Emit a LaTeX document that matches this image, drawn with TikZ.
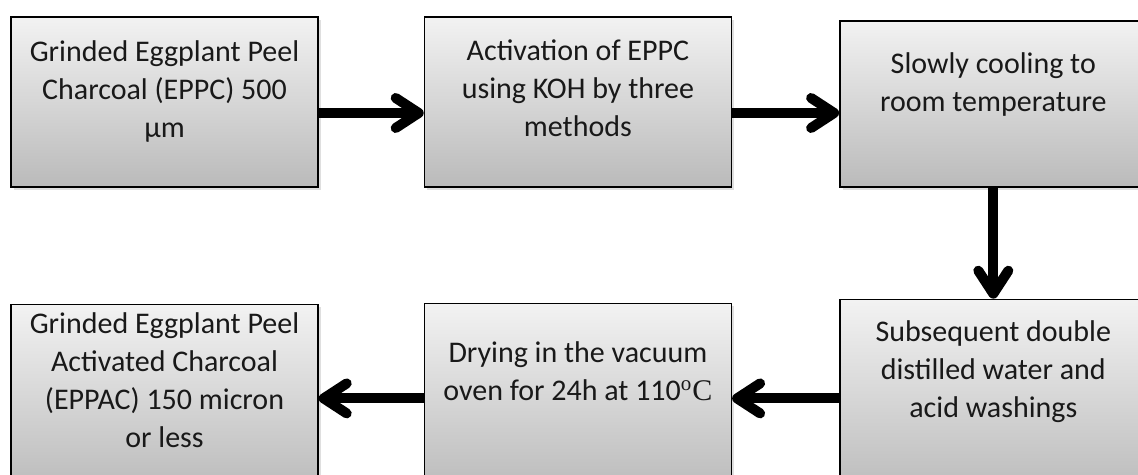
\documentclass[tikz,border=0pt]{standalone}
\usepackage{fontspec}
\setmainfont{Carlito}
\newfontfamily\tnr{Liberation Serif}
\usetikzlibrary{arrows.meta, positioning, shadows}

\begin{document}
\begin{tikzpicture}[
    stage/.style={rectangle, draw=black, line width=0.7pt,
                  top color=black!5, bottom color=black!27,
                  drop shadow={shadow xshift=1.5pt, shadow yshift=-1.5pt, opacity=.25},
                  minimum width=153.5pt, inner sep=0pt},
    caption/.style={align=center, anchor=base, text=black!90,
                    font=\fontsize{15}{19}\selectfont},
    flow/.style={line width=5pt, -{Straight Barb[round, length=11.5pt, width=15pt]}}
  ]
  \useasboundingbox (0,0) rectangle (569pt,237.5pt);

  % top row
  \node[stage, minimum height=85pt] (b1) at (82.25pt,186.5pt) {};
  \node[stage, minimum height=85pt, right=52.5pt of b1] (b2) {};
  \node[stage, minimum height=83pt, right=53.5pt of b2, yshift=-1pt] (b3) {};

  % bottom row (runs past the lower edge)
  \node[stage, minimum height=94pt, below=58pt of b1] (b4) {};
  \node[stage, minimum height=95pt, right=52.5pt of b4] (b5) {};
  \node[stage, minimum height=99pt, right=53.5pt of b5] (b6) {};

  % texts, placed by the baseline of their last line
  \node[caption] (t1) at ([yshift=-60.5pt]b1.north) {Grinded Eggplant Peel\\Charcoal (EPPC) 500\\μm};
  \node[caption] (t2) at ([yshift=-60pt]b2.north) {Activation of EPPC\\using KOH by three\\methods};
  \node[caption] (t3) at ([yshift=-45.5pt]b3.north) {Slowly cooling to\\room temperature};
  \node[caption] (t4) at ([yshift=-72pt]b4.north) {Grinded Eggplant Peel\\Activated Charcoal\\(EPPAC) 150 micron\\or less};
  \node[caption] (t5) at ([yshift=-49pt]b5.north) {Drying in the vacuum\\oven for 24h at 110{\tnr\textsuperscript{o}C}};
  \node[caption] (t6) at ([yshift=-59.5pt]b6.north) {Subsequent double\\distilled water and\\acid washings};

  % arrows
  \draw[flow] ([yshift=-5.5pt]b1.east) -- ([yshift=-5.5pt]b2.west);
  \draw[flow] ([yshift=-5.5pt]b2.east) -- ([yshift=-4.5pt]b3.west);
  \draw[flow] (b3) -- (b6);
  \draw[flow] (b6) -- (b5);
  \draw[flow] (b5) -- (b4);
\end{tikzpicture}
\end{document}
